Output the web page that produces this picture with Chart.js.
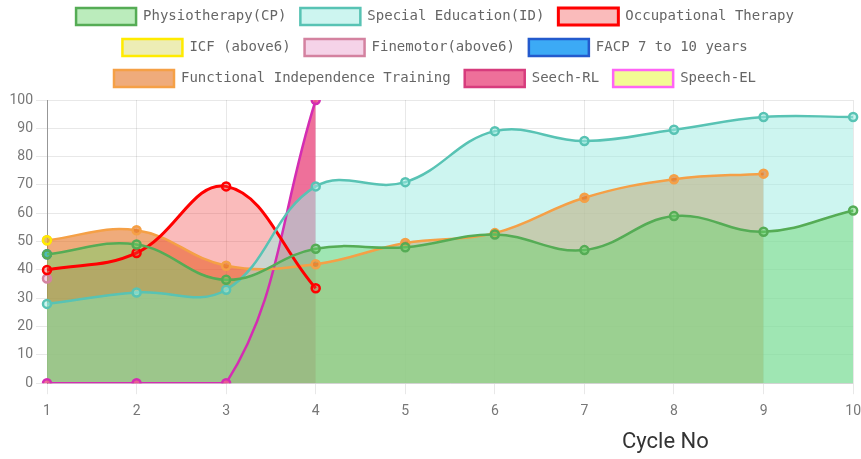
<!DOCTYPE html>
<html>
<head>
<meta charset="utf-8">
<script src="https://cdn.jsdelivr.net/npm/chart.js@4"></script>
<style>
  html, body { margin: 0; padding: 0; background: #fff; overflow: hidden; }
  #wrap { position: absolute; left: 0; top: -6px; width: 870px; height: 435px; }
  #xtitle { position: absolute; left: 622px; top: 430px; font: 22px Roboto, sans-serif; color: #333; line-height: 1; }
</style>
</head>
<body>
<div id="wrap"><canvas id="cycleChart"></canvas></div>
<div id="xtitle">Cycle No</div>
<script>
// chart values
const cycles = ['1', '2', '3', '4', '5', '6', '7', '8', '9', '10'];
const physio = [45.5, 49, 36.5, 47.5, 48, 52.5, 47, 59, 53.5, 61];
const specialEd = [28, 32, 33, 69.5, 71, 89, 85.5, 89.5, 94, 94];
const occupational = [40, 46, 69.5, 33.5];
const icf = [50.5];
const finemotor = [37];
const facp = [45.5];
const fit = [50.5, 54, 41.5, 42, 49.5, 53, 65.5, 72, 74];
const seechRL = [0, 0, 0, 100];
const speechEL = [];
const yTicks = [0, 10, 20, 30, 40, 50, 60, 70, 80, 90, 100];

const mkSet = (label, data, bg, border, extra) => Object.assign({
    label: label,
    data: data,
    backgroundColor: bg,
    borderColor: border,
    borderWidth: 2.5,
    fill: 'origin',
    tension: 0.4,
    pointRadius: 4,
    pointBorderWidth: 2.5,
}, extra || {});

// a bit more room between legend and plot
const legendGap = {
    id: 'legendGap',
    beforeInit(chart) {
        const origFit = chart.legend.fit;
        chart.legend.fit = function fit() {
            origFit.bind(chart.legend)();
            this.height += 3;
        };
    },
};

const ctx = document.getElementById('cycleChart');
new Chart(ctx, {
    type: 'line',
    data: {
        labels: cycles,
        datasets: [
            mkSet('Physiotherapy(CP)', physio, 'rgba(105,212,107,0.45)', 'rgb(85,172,85)'),
            mkSet('Special Education(ID)', specialEd, 'rgba(159,236,226,0.52)', 'rgb(88,195,180)'),
            mkSet('Occupational Therapy', occupational, 'rgba(240,60,60,0.35)', 'rgb(255,0,0)', { borderWidth: 3 }),
            mkSet('ICF (above6)', icf, 'rgba(215,215,90,0.45)', 'rgb(255,235,0)'),
            mkSet('Finemotor(above6)', finemotor, 'rgba(225,130,190,0.35)', 'rgb(212,130,160)'),
            mkSet('FACP 7 to 10 years', facp, 'rgb(60,170,245)', 'rgb(35,90,205)'),
            mkSet('Functional Independence Training', fit, 'rgba(228,115,35,0.6)', 'rgb(245,160,70)'),
            mkSet('Seech-RL', seechRL, 'rgba(236,92,140,0.88)', 'rgb(215,60,125)', {
                segment: { borderColor: 'rgb(212,45,178)' },
                pointBorderColor: 'rgb(212,45,178)',
            }),
            mkSet('Speech-EL', speechEL, 'rgba(240,250,120,0.8)', 'rgb(255,100,245)'),
        ],
    },
    options: {
        responsive: true,
        maintainAspectRatio: false,
        animation: false,
        layout: { padding: 0 },
        plugins: {
            filler: { drawTime: 'beforeDatasetsDraw' },
            legend: {
                display: true,
                labels: {
                    font: { family: '"DejaVu Sans Mono", monospace', size: 14 },
                    color: '#666',
                    boxWidth: 60,
                    boxHeight: 17,
                    padding: 14,
                },
            },
            tooltip: { enabled: false },
        },
        scales: {
            x: {
                grid: { color: 'rgba(0,0,0,0.09)', tickLength: 11 },
                border: { color: 'rgba(0,0,0,0.09)' },
                ticks: { color: '#777', padding: 9, font: { family: 'Roboto', size: 14 } },
            },
            y: {
                min: 0,
                max: 100,
                afterBuildTicks: (axis) => { axis.ticks = yTicks.map((v) => ({ value: v })); },
                afterFit: (axis) => { axis.width = 47; },
                grid: { color: 'rgba(0,0,0,0.09)', tickLength: 11 },
                border: { color: 'rgba(0,0,0,0.35)' },
                ticks: { color: '#777', padding: 3, font: { family: 'Roboto', size: 14 } },
            },
        },
    },
    plugins: [legendGap],
});
</script>
</body>
</html>
